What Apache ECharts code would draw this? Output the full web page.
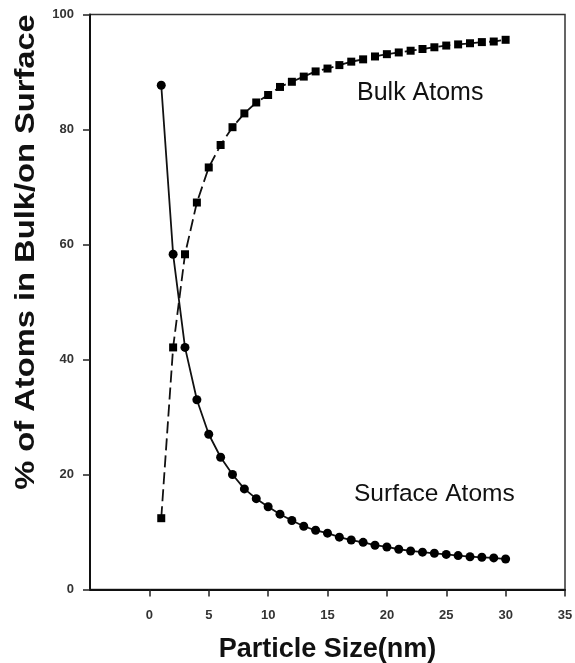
<!DOCTYPE html>
<html>
<head>
<meta charset="utf-8">
<script src="https://cdn.jsdelivr.net/npm/echarts@6/dist/echarts.min.js"></script>
<style>
html,body{margin:0;padding:0;background:#fff;}
#chart{width:575px;height:663px;}
</style>
</head>
<body>
<div id="chart"></div>
<script>
const particleSize = [1,2,3,4,5,6,7,8,9,10,11,12,13,14,15,16,17,18,19,20,21,22,23,24,25,26,27,28,29,30];
const surfaceAtoms = [87.7,58.3,42.1,33.0,27.0,23.0,20.0,17.5,15.8,14.4,13.1,12.0,11.0,10.3,9.8,9.1,8.6,8.2,7.7,7.4,7.0,6.7,6.5,6.3,6.1,5.9,5.7,5.6,5.5,5.3];
const bulkAtoms = [12.4,42.1,58.3,67.3,73.4,77.3,80.4,82.8,84.7,86.0,87.4,88.3,89.2,90.1,90.6,91.2,91.8,92.2,92.7,93.1,93.4,93.7,94.0,94.3,94.6,94.8,95.0,95.2,95.3,95.6];
const xTickValues = [0,5,10,15,20,25,30,35];
const xTitle = 'Particle Size(nm)';
const yTitle = '% of Atoms in Bulk/on Surface';

const chart = echarts.init(document.getElementById('chart'), null, {renderer:'canvas'});
const fontFam = '"Liberation Sans", Arial, sans-serif';
chart.setOption({
  animation:false,
  backgroundColor:'#fff',
  grid:{left:90,right:10,top:14.5,bottom:73.5,containLabel:false,outerBoundsMode:'none',show:true,borderColor:'#333',borderWidth:1.5,backgroundColor:'transparent'},
  xAxis:{
    type:'value', min:-5, max:35, interval:5,
    name:xTitle, nameLocation:'middle', nameGap:47,
    nameTextStyle:{fontFamily:fontFam,fontSize:27,fontWeight:'bold',color:'#111'},
    axisLine:{show:true,onZero:false,lineStyle:{color:'#111',width:2}},
    axisTick:{show:true,length:7,customValues:xTickValues,lineStyle:{color:'#222',width:1.5}},
    axisLabel:{customValues:xTickValues,margin:19,fontFamily:fontFam,fontSize:13,fontWeight:'bold',color:'#333'},
    splitLine:{show:false}
  },
  yAxis:{
    type:'value', min:0, max:100, interval:20,
    axisLine:{show:true,onZero:false,lineStyle:{color:'#111',width:2}},
    axisTick:{show:true,length:7,lineStyle:{color:'#222',width:1.5}},
    axisLabel:{margin:16,fontFamily:fontFam,fontSize:13,fontWeight:'bold',color:'#333'},
    splitLine:{show:false}
  },
  series:[
    {
      name:'Surface Atoms', type:'line',
      data:particleSize.map((x,i)=>[x,surfaceAtoms[i]]),
      symbol:'circle', symbolSize:9,
      lineStyle:{color:'#111',width:1.8,type:'solid'},
      itemStyle:{color:'#000'}
    },
    {
      name:'Bulk Atoms', type:'line',
      data:particleSize.map((x,i)=>[x,bulkAtoms[i]]),
      symbol:'rect', symbolSize:8,
      lineStyle:{color:'#111',width:1.8,type:[12,5]},
      itemStyle:{color:'#000'}
    }
  ],
  graphic:[
    {type:'text',x:27,y:252,rotation:Math.PI/2,scaleX:1.21,scaleY:1,
     style:{text:yTitle,font:'bold 27px "Liberation Sans", Arial, sans-serif',fill:'#111',align:'center',verticalAlign:'middle'}},
    {type:'text',left:357,top:81,style:{text:'Bulk Atoms',font:'25px "Liberation Sans", Arial, sans-serif',fill:'#111'}},
    {type:'text',left:354,top:482,style:{text:'Surface Atoms',font:'24.5px "Liberation Sans", Arial, sans-serif',fill:'#111'}}
  ]
});
</script>
</body>
</html>
